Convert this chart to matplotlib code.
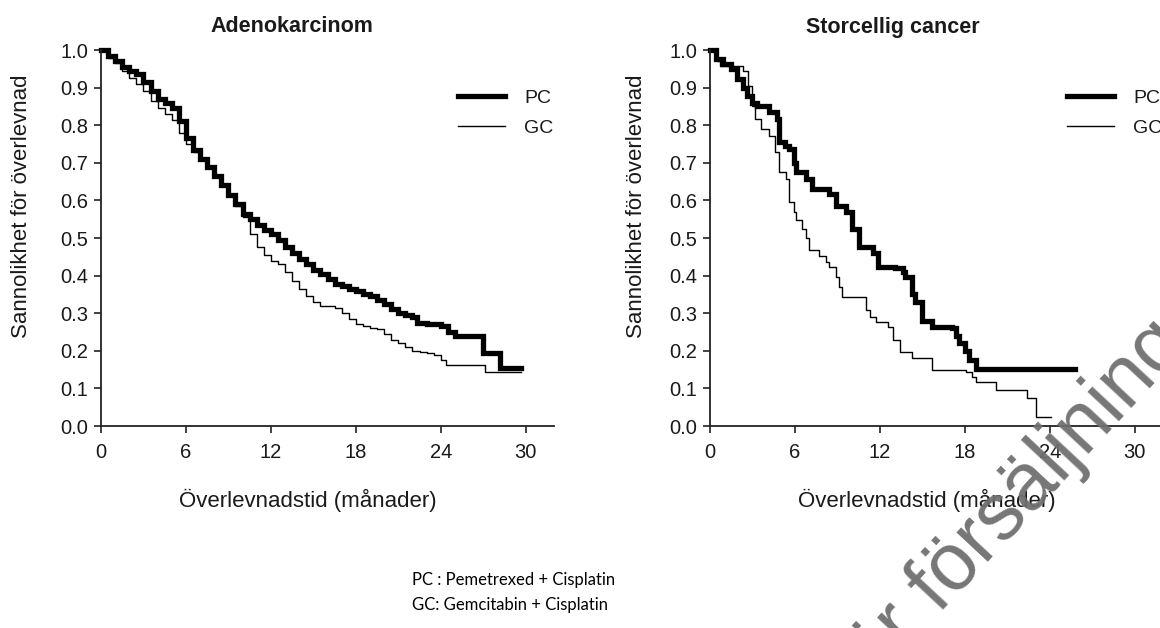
import numpy as np
import matplotlib.pyplot as plt

# Kaplan-Meier curves (months, survival probability)
adeno_pc_t = [0, 0.5, 1.0, 1.5, 2.0, 2.5, 3.0, 3.5, 4.0, 4.5, 5.0, 5.5, 6.0, 6.5, 7.0, 7.5,
              8.0, 8.5, 9.0, 9.5, 10.0, 10.5, 11.0, 11.5, 12.0, 12.5, 13.0, 13.5, 14.0, 14.5,
              15.0, 15.5, 16.0, 16.5, 17.0, 17.5, 18.0, 18.5, 19.0, 19.5, 20.0, 20.5, 21.0,
              21.5, 22.0, 22.3, 23.0, 24.0, 24.5, 25.0, 27.0, 28.2, 29.7]
adeno_pc_s = [1.0, 0.985, 0.97, 0.955, 0.945, 0.935, 0.915, 0.89, 0.87, 0.86, 0.845, 0.81,
              0.765, 0.735, 0.71, 0.69, 0.665, 0.64, 0.615, 0.59, 0.565, 0.55, 0.535, 0.52,
              0.51, 0.495, 0.475, 0.46, 0.445, 0.43, 0.415, 0.405, 0.39, 0.378, 0.372, 0.365,
              0.36, 0.35, 0.345, 0.335, 0.325, 0.31, 0.30, 0.295, 0.29, 0.275, 0.27, 0.265,
              0.25, 0.24, 0.195, 0.155, 0.155]

adeno_gc_t = [0, 0.5, 1.0, 1.5, 2.0, 2.5, 3.0, 3.5, 4.0, 4.5, 5.0, 5.5, 6.0, 6.5, 7.0, 7.5,
              8.0, 8.5, 9.0, 9.5, 10.0, 10.5, 11.0, 11.5, 12.0, 12.5, 13.0, 13.5, 14.0, 14.5,
              15.0, 15.5, 16.5, 17.0, 17.5, 18.0, 18.5, 19.0, 19.5, 20.0, 20.5, 21.0, 21.5,
              22.0, 22.5, 23.0, 23.5, 24.0, 24.4, 27.1, 29.7]
adeno_gc_s = [1.0, 0.98, 0.965, 0.945, 0.925, 0.91, 0.89, 0.865, 0.845, 0.83, 0.815, 0.78,
              0.75, 0.73, 0.71, 0.69, 0.665, 0.64, 0.615, 0.585, 0.555, 0.51, 0.475, 0.455,
              0.44, 0.43, 0.41, 0.385, 0.365, 0.345, 0.33, 0.32, 0.315, 0.30, 0.285, 0.27,
              0.265, 0.26, 0.258, 0.245, 0.23, 0.222, 0.21, 0.20, 0.197, 0.195, 0.19, 0.175,
              0.162, 0.143, 0.143]

large_pc_t = [0, 0.4, 0.9, 1.5, 1.9, 2.3, 2.6, 3.0, 3.3, 4.2, 4.7, 4.9, 5.3, 5.6, 5.9, 6.1,
              6.8, 7.2, 8.4, 8.9, 9.6, 10.0, 10.5, 11.5, 11.9, 13.1, 13.6, 13.8, 14.3, 14.5,
              15.0, 15.7, 17.1, 17.4, 17.6, 18.0, 18.3, 18.8, 25.8]
large_pc_s = [1.0, 0.976, 0.963, 0.95, 0.923, 0.90, 0.877, 0.86, 0.85, 0.835, 0.816, 0.755,
              0.745, 0.736, 0.70, 0.675, 0.656, 0.63, 0.616, 0.584, 0.568, 0.523, 0.477,
              0.461, 0.424, 0.421, 0.41, 0.397, 0.35, 0.33, 0.28, 0.264, 0.261, 0.24, 0.221,
              0.20, 0.176, 0.152, 0.152]

large_gc_t = [0, 0.5, 0.7, 2.3, 2.7, 3.0, 3.2, 3.6, 4.2, 4.6, 4.9, 5.4, 5.6, 5.9, 6.1, 6.5,
              6.8, 7.0, 7.7, 8.2, 8.4, 8.9, 9.1, 9.3, 11.0, 11.3, 11.7, 12.6, 12.9, 13.4, 14.3,
              15.7, 18.1, 18.5, 18.8, 20.2, 22.4, 23.0, 24.1]
large_gc_s = [1.0, 0.97, 0.957, 0.944, 0.904, 0.85, 0.816, 0.789, 0.771, 0.728, 0.675, 0.656,
              0.595, 0.57, 0.549, 0.523, 0.50, 0.469, 0.451, 0.435, 0.424, 0.397, 0.37, 0.344,
              0.309, 0.29, 0.277, 0.264, 0.229, 0.197, 0.181, 0.149, 0.144, 0.131, 0.117,
              0.096, 0.075, 0.024, 0.024]

titles = ['Adenokarcinom', 'Storcellig cancer']
series_labels = ['PC', 'GC']
x_ticks = [0, 6, 12, 18, 24, 30]
y_ticks = np.round(np.arange(0, 1.01, 0.1), 1)

arial = 'Liberation Sans'
txt_col = '#1a1a1a'

fig = plt.figure(figsize=(11.6, 6.28), dpi=100)
W, H = 1160, 628

def px(x, y):
    return x / W, 1 - y / H

panels = [
    (101, titles[0], (adeno_pc_t, adeno_pc_s), (adeno_gc_t, adeno_gc_s), 292, 308, 22),
    (710, titles[1], (large_pc_t, large_pc_s), (large_gc_t, large_gc_s), 893, 927, 637),
]

for left, title, pc, gc, tx, xlx, ylx in panels:
    ax = fig.add_axes([left / W, (H - 426) / H, 453 / W, 376 / H])
    ax.step(pc[0], pc[1], where='post', color='black', lw=3.8, label=series_labels[0],
            clip_on=False, solid_joinstyle='miter')
    ax.step(gc[0], gc[1], where='post', color='black', lw=1.0, label=series_labels[1],
            clip_on=False)
    ax.set_xlim(0, 32)
    ax.set_ylim(0, 1.0)
    ax.set_xticks(x_ticks)
    ax.set_yticks(y_ticks)
    ax.set_yticklabels([f'{v:.1f}' for v in y_ticks])
    for s in ['top', 'right']:
        ax.spines[s].set_visible(False)
    for s in ['left', 'bottom']:
        ax.spines[s].set_linewidth(1.3)
        ax.spines[s].set_color('#222222')
    ax.tick_params(direction='out', length=5, width=1.2, color='#222222',
                   labelsize=14.5, labelcolor=txt_col, pad=4)
    for lab in ax.get_xticklabels() + ax.get_yticklabels():
        lab.set_fontfamily(arial)
    ax.tick_params(axis='x', pad=7)
    leg = ax.legend(loc='upper left', bbox_to_anchor=px(left + 357, 89),
                    bbox_transform=fig.transFigure, frameon=False, handlelength=2.4,
                    handletextpad=1.0, labelspacing=0.65, borderpad=0, borderaxespad=0,
                    prop={'family': arial, 'size': 14})
    for t in leg.get_texts():
        t.set_color(txt_col)
    fig.text(*px(tx, 27), title, ha='center', va='center', fontsize=15.5,
             fontweight='bold', family=arial, color=txt_col)
    fig.text(*px(xlx, 500), 'Överlevnadstid (månader)', ha='center', va='center',
             fontsize=16, family=arial, color=txt_col)
    fig.text(*px(ylx, 206), 'Sannolikhet för överlevnad', ha='center', va='center',
             rotation=90, fontsize=16, family=arial, color=txt_col)

fig.text(*px(412, 580), 'PC : Pemetrexed + Cisplatin', ha='left', va='center',
         fontsize=12, family='Lato', color='black')
fig.text(*px(412, 605), 'GC: Gemcitabin + Cisplatin', ha='left', va='center',
         fontsize=12, family='Lato', color='black')

# watermark, mostly outside the canvas
fig.text(*px(796, 768), 'Ej för försäljning', ha='left', va='baseline', rotation=47,
         rotation_mode='anchor', fontsize=58, family=arial, color='#6f6f6f', alpha=0.95)

fig.savefig('out.png', dpi=100)
